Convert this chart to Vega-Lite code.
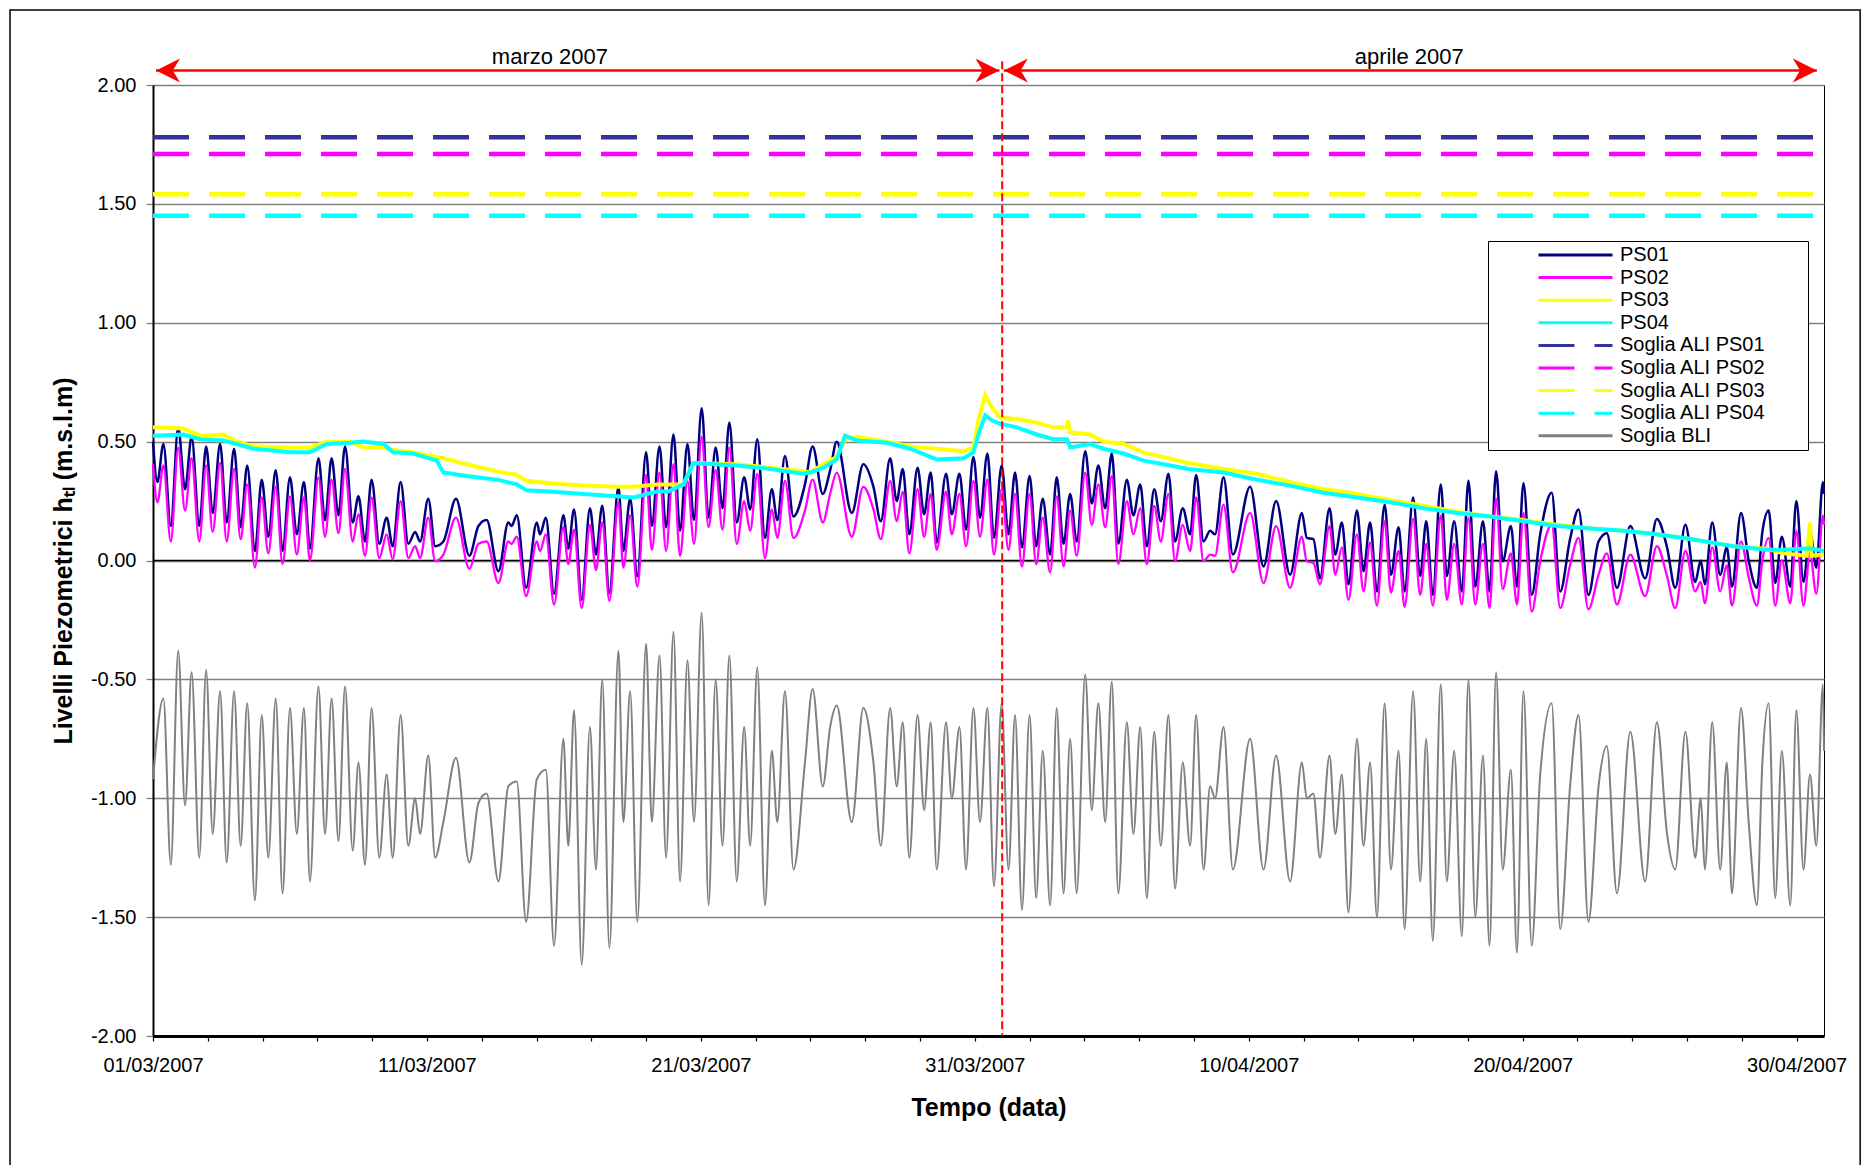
{
  "$schema": "https://vega.github.io/schema/vega-lite/v6.json",
  "width": 1671,
  "height": 951,
  "autosize": "none",
  "padding": {"left": 153, "top": 85, "right": 48, "bottom": 129},
  "background": "#FFFFFF",
  "config": {
    "font": "Liberation Sans",
    "view": {"stroke": "#000000", "strokeWidth": 1}
  },
  "data": {"values": [{}]},
  "datasets": {
    "ali": [
      {"serie": "Soglia ALI PS01", "valore": 1.78},
      {"serie": "Soglia ALI PS02", "valore": 1.71},
      {"serie": "Soglia ALI PS03", "valore": 1.54},
      {"serie": "Soglia ALI PS04", "valore": 1.45}
    ],
    "ps12": [
      {"d":0,"PS01":0.50,"PS02":0.405},{"d":0.16,"PS01":0.33,"PS02":0.245},{"d":0.38,"PS01":0.49,"PS02":0.40},{"d":0.65,"PS01":0.145,"PS02":0.08},
      {"d":0.92,"PS01":0.56,"PS02":0.475},{"d":1.17,"PS01":0.30,"PS02":0.21},{"d":1.41,"PS01":0.52,"PS02":0.43},{"d":1.69,"PS01":0.145,"PS02":0.08},
      {"d":1.94,"PS01":0.48,"PS02":0.40},{"d":2.18,"PS01":0.20,"PS02":0.12},{"d":2.45,"PS01":0.49,"PS02":0.41},{"d":2.69,"PS01":0.16,"PS02":0.08},
      {"d":2.96,"PS01":0.47,"PS02":0.385},{"d":3.20,"PS01":0.14,"PS02":0.09},{"d":3.44,"PS01":0.40,"PS02":0.32},{"d":3.72,"PS01":0.04,"PS02":-0.03},
      {"d":3.97,"PS01":0.34,"PS02":0.265},{"d":4.21,"PS01":0.10,"PS02":0.03},{"d":4.48,"PS01":0.38,"PS02":0.31},{"d":4.73,"PS01":0.04,"PS02":-0.015},
      {"d":5.00,"PS01":0.35,"PS02":0.27},{"d":5.25,"PS01":0.11,"PS02":0.025},{"d":5.51,"PS01":0.33,"PS02":0.265},{"d":5.73,"PS01":0.05,"PS02":0.0},
      {"d":6.04,"PS01":0.43,"PS02":0.35},{"d":6.28,"PS01":0.17,"PS02":0.10},{"d":6.52,"PS01":0.43,"PS02":0.34},{"d":6.77,"PS01":0.19,"PS02":0.115},
      {"d":7.01,"PS01":0.48,"PS02":0.385},{"d":7.29,"PS01":0.16,"PS02":0.08},{"d":7.50,"PS01":0.27,"PS02":0.195},{"d":7.74,"PS01":0.08,"PS02":0.02},
      {"d":7.98,"PS01":0.34,"PS02":0.265},{"d":8.26,"PS01":0.07,"PS02":0.01},{"d":8.53,"PS01":0.18,"PS02":0.11},{"d":8.75,"PS01":0.06,"PS02":0.005},
      {"d":9.04,"PS01":0.33,"PS02":0.25},{"d":9.32,"PS01":0.07,"PS02":0.01},{"d":9.57,"PS01":0.12,"PS02":0.06},{"d":9.75,"PS01":0.08,"PS02":0.01},
      {"d":10.05,"PS01":0.26,"PS02":0.18},{"d":10.30,"PS01":0.06,"PS02":-0.003},{"d":10.60,"PS01":0.08,"PS02":0.025},{"d":11.06,"PS01":0.26,"PS02":0.18},
      {"d":11.55,"PS01":0.02,"PS02":-0.035},{"d":11.88,"PS01":0.145,"PS02":0.07},{"d":12.18,"PS01":0.17,"PS02":0.08},{"d":12.61,"PS01":-0.045,"PS02":-0.095},
      {"d":12.97,"PS01":0.16,"PS02":0.08},{"d":13.09,"PS01":0.145,"PS02":0.07},{"d":13.28,"PS01":0.19,"PS02":0.10},{"d":13.62,"PS01":-0.115,"PS02":-0.15},
      {"d":14.01,"PS01":0.16,"PS02":0.08},{"d":14.13,"PS01":0.11,"PS02":0.04},{"d":14.34,"PS01":0.18,"PS02":0.11},{"d":14.64,"PS01":-0.14,"PS02":-0.185},
      {"d":14.98,"PS01":0.19,"PS02":0.14},{"d":15.16,"PS01":0.05,"PS02":-0.015},{"d":15.37,"PS01":0.215,"PS02":0.13},{"d":15.65,"PS01":-0.165,"PS02":-0.20},
      {"d":15.95,"PS01":0.22,"PS02":0.15},{"d":16.17,"PS01":0.025,"PS02":-0.04},{"d":16.40,"PS01":0.23,"PS02":0.16},{"d":16.66,"PS01":-0.137,"PS02":-0.17},
      {"d":16.99,"PS01":0.31,"PS02":0.245},{"d":17.17,"PS01":0.04,"PS02":-0.03},{"d":17.42,"PS01":0.26,"PS02":0.19},{"d":17.68,"PS01":-0.066,"PS02":-0.11},
      {"d":18.00,"PS01":0.455,"PS02":0.36},{"d":18.21,"PS01":0.145,"PS02":0.045},{"d":18.49,"PS01":0.48,"PS02":0.37},{"d":18.73,"PS01":0.14,"PS02":0.04},
      {"d":19.00,"PS01":0.53,"PS02":0.405},{"d":19.24,"PS01":0.125,"PS02":0.02},{"d":19.51,"PS01":0.49,"PS02":0.335},{"d":19.75,"PS01":0.17,"PS02":0.07},
      {"d":20.03,"PS01":0.64,"PS02":0.52},{"d":20.28,"PS01":0.18,"PS02":0.14},{"d":20.54,"PS01":0.475,"PS02":0.38},{"d":20.79,"PS01":0.22,"PS02":0.13},
      {"d":21.04,"PS01":0.58,"PS02":0.475},{"d":21.31,"PS01":0.16,"PS02":0.07},{"d":21.58,"PS01":0.35,"PS02":0.25},{"d":21.80,"PS01":0.215,"PS02":0.125},
      {"d":22.06,"PS01":0.51,"PS02":0.365},{"d":22.34,"PS01":0.095,"PS02":0.01},{"d":22.59,"PS01":0.30,"PS02":0.215},{"d":22.79,"PS01":0.17,"PS02":0.095},
      {"d":23.07,"PS01":0.44,"PS02":0.335},{"d":23.38,"PS01":0.185,"PS02":0.095},{"d":23.80,"PS01":0.32,"PS02":0.21},{"d":24.08,"PS01":0.48,"PS02":0.34},
      {"d":24.45,"PS01":0.28,"PS02":0.16},{"d":24.72,"PS01":0.38,"PS02":0.28},{"d":24.96,"PS01":0.50,"PS02":0.37},{"d":25.51,"PS01":0.20,"PS02":0.10},
      {"d":25.93,"PS01":0.405,"PS02":0.31},{"d":26.30,"PS01":0.31,"PS02":0.215},{"d":26.57,"PS01":0.165,"PS02":0.09},{"d":26.91,"PS01":0.43,"PS02":0.335},
      {"d":27.15,"PS01":0.25,"PS02":0.165},{"d":27.37,"PS01":0.385,"PS02":0.29},{"d":27.61,"PS01":0.11,"PS02":0.03},{"d":27.91,"PS01":0.39,"PS02":0.30},
      {"d":28.15,"PS01":0.195,"PS02":0.10},{"d":28.39,"PS01":0.37,"PS02":0.28},{"d":28.61,"PS01":0.075,"PS02":0.045},{"d":28.95,"PS01":0.365,"PS02":0.29},
      {"d":29.16,"PS01":0.195,"PS02":0.11},{"d":29.44,"PS01":0.365,"PS02":0.28},{"d":29.68,"PS01":0.13,"PS02":0.06},{"d":29.95,"PS01":0.435,"PS02":0.335},
      {"d":30.19,"PS01":0.18,"PS02":0.10},{"d":30.46,"PS01":0.45,"PS02":0.34},{"d":30.70,"PS01":0.095,"PS02":0.025},{"d":30.98,"PS01":0.40,"PS02":0.30},
      {"d":31.23,"PS01":0.11,"PS02":0.045},{"d":31.47,"PS01":0.37,"PS02":0.28},{"d":31.72,"PS01":0.055,"PS02":-0.025},{"d":32.00,"PS01":0.355,"PS02":0.28},
      {"d":32.24,"PS01":0.06,"PS02":-0.015},{"d":32.48,"PS01":0.26,"PS02":0.18},{"d":32.75,"PS01":0.025,"PS02":-0.05},{"d":32.99,"PS01":0.35,"PS02":0.27},
      {"d":33.24,"PS01":0.07,"PS02":-0.025},{"d":33.48,"PS01":0.28,"PS02":0.21},{"d":33.72,"PS01":0.08,"PS02":0.02},{"d":34.03,"PS01":0.46,"PS02":0.37},
      {"d":34.27,"PS01":0.24,"PS02":0.15},{"d":34.51,"PS01":0.40,"PS02":0.32},{"d":34.76,"PS01":0.22,"PS02":0.14},{"d":35.00,"PS01":0.45,"PS02":0.355},
      {"d":35.24,"PS01":0.07,"PS02":-0.015},{"d":35.55,"PS01":0.34,"PS02":0.25},{"d":35.79,"PS01":0.19,"PS02":0.11},{"d":36.04,"PS01":0.32,"PS02":0.22},
      {"d":36.28,"PS01":0.06,"PS02":-0.015},{"d":36.55,"PS01":0.30,"PS02":0.23},{"d":36.79,"PS01":0.165,"PS02":0.08},{"d":37.07,"PS01":0.365,"PS02":0.28},
      {"d":37.31,"PS01":0.08,"PS02":-0.003},{"d":37.59,"PS01":0.22,"PS02":0.15},{"d":37.86,"PS01":0.11,"PS02":0.04},{"d":38.08,"PS01":0.36,"PS02":0.265},
      {"d":38.35,"PS01":0.08,"PS02":-0.003},{"d":38.59,"PS01":0.125,"PS02":0.025},{"d":38.77,"PS01":0.11,"PS02":0.02},{"d":39.08,"PS01":0.35,"PS02":0.235},
      {"d":39.42,"PS01":0.025,"PS02":-0.05},{"d":40.05,"PS01":0.31,"PS02":0.20},{"d":40.54,"PS01":-0.025,"PS02":-0.095},{"d":41.00,"PS01":0.25,"PS02":0.145},
      {"d":41.51,"PS01":-0.06,"PS02":-0.115},{"d":41.94,"PS01":0.20,"PS02":0.10},{"d":42.12,"PS01":0.095,"PS02":-0.003},{"d":42.36,"PS01":0.09,"PS02":-0.01},
      {"d":42.60,"PS01":-0.075,"PS02":-0.10},{"d":42.95,"PS01":0.22,"PS02":0.145},{"d":43.16,"PS01":0.025,"PS02":-0.06},{"d":43.40,"PS01":0.16,"PS02":0.055},
      {"d":43.64,"PS01":-0.10,"PS02":-0.165},{"d":43.95,"PS01":0.21,"PS02":0.11},{"d":44.19,"PS01":-0.045,"PS02":-0.13},{"d":44.43,"PS01":0.16,"PS02":0.075},
      {"d":44.68,"PS01":-0.13,"PS02":-0.19},{"d":44.96,"PS01":0.235,"PS02":0.165},{"d":45.19,"PS01":-0.06,"PS02":-0.135},{"d":45.47,"PS01":0.14,"PS02":0.04},
      {"d":45.69,"PS01":-0.13,"PS02":-0.195},{"d":46.00,"PS01":0.265,"PS02":0.175},{"d":46.26,"PS01":-0.065,"PS02":-0.145},{"d":46.48,"PS01":0.165,"PS02":0.07},
      {"d":46.72,"PS01":-0.145,"PS02":-0.19},{"d":47.01,"PS01":0.32,"PS02":0.19},{"d":47.23,"PS01":-0.065,"PS02":-0.165},{"d":47.50,"PS01":0.165,"PS02":0.07},
      {"d":47.78,"PS01":-0.13,"PS02":-0.185},{"d":48.02,"PS01":0.335,"PS02":0.18},{"d":48.27,"PS01":-0.11,"PS02":-0.185},{"d":48.55,"PS01":0.165,"PS02":0.07},
      {"d":48.79,"PS01":-0.13,"PS02":-0.20},{"d":49.03,"PS01":0.375,"PS02":0.26},{"d":49.27,"PS01":-0.003,"PS02":-0.12},{"d":49.57,"PS01":0.145,"PS02":0.03},
      {"d":49.79,"PS01":-0.11,"PS02":-0.185},{"d":50.03,"PS01":0.325,"PS02":0.20},{"d":50.33,"PS01":-0.145,"PS02":-0.215},{"d":50.64,"PS01":0.11,"PS02":-0.003},
      {"d":51.06,"PS01":0.285,"PS02":0.15},{"d":51.37,"PS01":-0.13,"PS02":-0.20},{"d":51.73,"PS01":0.09,"PS02":-0.02},{"d":52.04,"PS01":0.215,"PS02":0.095},
      {"d":52.40,"PS01":-0.145,"PS02":-0.205},{"d":52.77,"PS01":0.08,"PS02":-0.06},{"d":53.07,"PS01":0.115,"PS02":0.03},{"d":53.44,"PS01":-0.115,"PS02":-0.185},
      {"d":53.93,"PS01":0.145,"PS02":0.025},{"d":54.47,"PS01":-0.075,"PS02":-0.15},{"d":54.90,"PS01":0.175,"PS02":0.06},{"d":55.27,"PS01":0.055,"PS02":-0.066},
      {"d":55.57,"PS01":-0.115,"PS02":-0.20},{"d":55.94,"PS01":0.15,"PS02":0.04},{"d":56.30,"PS01":-0.09,"PS02":-0.13},{"d":56.50,"PS01":0.0,"PS02":-0.09},
      {"d":56.65,"PS01":-0.10,"PS02":-0.18},{"d":56.92,"PS01":0.16,"PS02":0.055},{"d":57.21,"PS01":-0.06,"PS02":-0.13},{"d":57.45,"PS01":0.055,"PS02":-0.02},
      {"d":57.64,"PS01":-0.11,"PS02":-0.19},{"d":57.97,"PS01":0.20,"PS02":0.08},{"d":58.25,"PS01":0.0,"PS02":-0.07},{"d":58.55,"PS01":-0.115,"PS02":-0.19},
      {"d":58.75,"PS01":0.12,"PS02":0.0},{"d":58.98,"PS01":0.21,"PS02":0.095},{"d":59.22,"PS01":-0.095,"PS02":-0.19},{"d":59.46,"PS01":0.10,"PS02":0.0},
      {"d":59.77,"PS01":-0.11,"PS02":-0.18},{"d":59.99,"PS01":0.25,"PS02":0.125},{"d":60.25,"PS01":-0.09,"PS02":-0.19},{"d":60.49,"PS01":0.12,"PS02":0.03},
      {"d":60.72,"PS01":-0.03,"PS02":-0.14},{"d":60.96,"PS01":0.33,"PS02":0.19},{"d":61.0,"PS01":0.28,"PS02":0.15}
    ],
    "ps34": [
      {"d":0,"PS03":0.56,"PS04":0.525},{"d":1.11,"PS03":0.555,"PS04":0.53},{"d":1.72,"PS03":0.525,"PS04":0.51},{"d":2.57,"PS03":0.53,"PS04":0.505},
      {"d":3.05,"PS03":0.50,"PS04":0.49},{"d":3.66,"PS03":0.48,"PS04":0.47},{"d":5.0,"PS03":0.475,"PS04":0.455},{"d":5.73,"PS03":0.475,"PS04":0.455},
      {"d":6.34,"PS03":0.50,"PS04":0.49},{"d":7.19,"PS03":0.50,"PS04":0.495},{"d":7.68,"PS03":0.475,"PS04":0.50},{"d":8.41,"PS03":0.475,"PS04":0.49},
      {"d":8.77,"PS03":0.465,"PS04":0.455},{"d":9.5,"PS03":0.455,"PS04":0.45},{"d":10.36,"PS03":0.435,"PS04":0.42},{"d":10.6,"PS03":0.43,"PS04":0.37},
      {"d":11.45,"PS03":0.405,"PS04":0.355},{"d":12.55,"PS03":0.375,"PS04":0.34},{"d":13.28,"PS03":0.36,"PS04":0.32},{"d":13.64,"PS03":0.335,"PS04":0.295},
      {"d":14.49,"PS03":0.325,"PS04":0.29},{"d":15.71,"PS03":0.315,"PS04":0.28},{"d":16.93,"PS03":0.31,"PS04":0.27},{"d":17.54,"PS03":0.31,"PS04":0.265},
      {"d":18.39,"PS03":0.32,"PS04":0.29},{"d":18.81,"PS03":0.32,"PS04":0.29},{"d":19.36,"PS03":0.32,"PS04":0.32},{"d":19.73,"PS03":0.41,"PS04":0.41},
      {"d":21.31,"PS03":0.405,"PS04":0.40},{"d":22.53,"PS03":0.39,"PS04":0.385},{"d":23.74,"PS03":0.375,"PS04":0.365},{"d":23.99,"PS03":0.37,"PS04":0.37},
      {"d":24.47,"PS03":0.405,"PS04":0.39},{"d":24.96,"PS03":0.435,"PS04":0.425},{"d":25.26,"PS03":0.51,"PS04":0.525},{"d":25.69,"PS03":0.52,"PS04":0.505},
      {"d":26.79,"PS03":0.50,"PS04":0.495},{"d":27.64,"PS03":0.48,"PS04":0.47},{"d":28.61,"PS03":0.47,"PS04":0.425},{"d":29.59,"PS03":0.46,"PS04":0.43},
      {"d":29.95,"PS03":0.475,"PS04":0.455},{"d":30.13,"PS03":0.59,"PS04":0.53},{"d":30.38,"PS03":0.695,"PS04":0.61},{"d":30.62,"PS03":0.645,"PS04":0.59},
      {"d":30.93,"PS03":0.60,"PS04":0.575},{"d":31.53,"PS03":0.595,"PS04":0.56},{"d":32.26,"PS03":0.58,"PS04":0.53},{"d":32.87,"PS03":0.56,"PS04":0.51},
      {"d":33.36,"PS03":0.56,"PS04":0.51},{"d":33.40,"PS03":0.59,"PS04":0.50},{"d":33.48,"PS03":0.54,"PS04":0.475},{"d":34.21,"PS03":0.53,"PS04":0.49},
      {"d":34.70,"PS03":0.50,"PS04":0.47},{"d":35.43,"PS03":0.49,"PS04":0.45},{"d":36.16,"PS03":0.455,"PS04":0.42},{"d":36.89,"PS03":0.435,"PS04":0.405},
      {"d":37.80,"PS03":0.41,"PS04":0.385},{"d":39.08,"PS03":0.385,"PS04":0.37},{"d":40.30,"PS03":0.365,"PS04":0.34},{"d":41.51,"PS03":0.33,"PS04":0.315},
      {"d":42.73,"PS03":0.30,"PS04":0.285},{"d":43.95,"PS03":0.28,"PS04":0.265},{"d":45.16,"PS03":0.255,"PS04":0.245},{"d":46.38,"PS03":0.23,"PS04":0.22},
      {"d":47.60,"PS03":0.205,"PS04":0.20},{"d":48.81,"PS03":0.185,"PS04":0.185},{"d":50.03,"PS03":0.17,"PS04":0.165},{"d":51.25,"PS03":0.15,"PS04":0.145},
      {"d":52.47,"PS03":0.135,"PS04":0.135},{"d":53.69,"PS03":0.125,"PS04":0.125},{"d":54.90,"PS03":0.11,"PS04":0.11},{"d":56.12,"PS03":0.09,"PS04":0.09},
      {"d":57.70,"PS03":0.06,"PS04":0.06},{"d":58.91,"PS03":0.05,"PS04":0.045},{"d":59.52,"PS03":0.03,"PS04":0.045},{"d":60.37,"PS03":0.02,"PS04":0.05},
      {"d":60.49,"PS03":0.16,"PS04":0.05},{"d":60.55,"PS03":0.02,"PS04":0.05},{"d":61.0,"PS03":0.025,"PS04":0.04}
    ],
    "bli": [
      {"d":0,"BLI":-0.92},{"d":0.38,"BLI":-0.58},{"d":0.65,"BLI":-1.28},{"d":0.92,"BLI":-0.38},{"d":1.17,"BLI":-1.03},{"d":1.41,"BLI":-0.47},
      {"d":1.69,"BLI":-1.25},{"d":1.94,"BLI":-0.46},{"d":2.18,"BLI":-1.15},{"d":2.45,"BLI":-0.55},{"d":2.69,"BLI":-1.27},{"d":2.96,"BLI":-0.55},
      {"d":3.20,"BLI":-1.2},{"d":3.44,"BLI":-0.6},{"d":3.72,"BLI":-1.43},{"d":3.97,"BLI":-0.65},{"d":4.21,"BLI":-1.25},{"d":4.48,"BLI":-0.58},
      {"d":4.73,"BLI":-1.40},{"d":5.00,"BLI":-0.62},{"d":5.25,"BLI":-1.15},{"d":5.51,"BLI":-0.62},{"d":5.73,"BLI":-1.35},{"d":6.04,"BLI":-0.53},
      {"d":6.28,"BLI":-1.15},{"d":6.52,"BLI":-0.58},{"d":6.77,"BLI":-1.18},{"d":7.01,"BLI":-0.53},{"d":7.29,"BLI":-1.22},{"d":7.50,"BLI":-0.85},
      {"d":7.74,"BLI":-1.28},{"d":7.98,"BLI":-0.62},{"d":8.26,"BLI":-1.25},{"d":8.53,"BLI":-0.9},{"d":8.75,"BLI":-1.25},{"d":9.04,"BLI":-0.65},
      {"d":9.32,"BLI":-1.2},{"d":9.57,"BLI":-1.0},{"d":9.75,"BLI":-1.15},{"d":10.05,"BLI":-0.82},{"d":10.30,"BLI":-1.25},{"d":10.60,"BLI":-1.1},
      {"d":11.06,"BLI":-0.83},{"d":11.55,"BLI":-1.27},{"d":11.88,"BLI":-1.02},{"d":12.18,"BLI":-0.98},{"d":12.61,"BLI":-1.35},{"d":12.97,"BLI":-0.95},
      {"d":13.28,"BLI":-0.93},{"d":13.62,"BLI":-1.52},{"d":14.01,"BLI":-0.92},{"d":14.34,"BLI":-0.88},{"d":14.64,"BLI":-1.62},{"d":14.98,"BLI":-0.75},
      {"d":15.16,"BLI":-1.2},{"d":15.37,"BLI":-0.63},{"d":15.65,"BLI":-1.70},{"d":15.95,"BLI":-0.7},{"d":16.17,"BLI":-1.3},{"d":16.40,"BLI":-0.5},
      {"d":16.66,"BLI":-1.63},{"d":16.99,"BLI":-0.38},{"d":17.17,"BLI":-1.1},{"d":17.42,"BLI":-0.55},{"d":17.68,"BLI":-1.52},{"d":18.00,"BLI":-0.35},
      {"d":18.21,"BLI":-1.1},{"d":18.49,"BLI":-0.40},{"d":18.73,"BLI":-1.25},{"d":19.00,"BLI":-0.30},{"d":19.24,"BLI":-1.35},{"d":19.51,"BLI":-0.42},
      {"d":19.75,"BLI":-1.1},{"d":20.03,"BLI":-0.22},{"d":20.28,"BLI":-1.45},{"d":20.54,"BLI":-0.50},{"d":20.79,"BLI":-1.2},{"d":21.04,"BLI":-0.40},
      {"d":21.31,"BLI":-1.35},{"d":21.58,"BLI":-0.7},{"d":21.80,"BLI":-1.2},{"d":22.06,"BLI":-0.45},{"d":22.34,"BLI":-1.45},{"d":22.59,"BLI":-0.8},
      {"d":22.79,"BLI":-1.1},{"d":23.07,"BLI":-0.55},{"d":23.38,"BLI":-1.3},{"d":23.80,"BLI":-0.85},{"d":24.08,"BLI":-0.54},{"d":24.45,"BLI":-0.95},
      {"d":24.72,"BLI":-0.7},{"d":24.96,"BLI":-0.61},{"d":25.51,"BLI":-1.1},{"d":25.93,"BLI":-0.62},{"d":26.30,"BLI":-0.85},{"d":26.57,"BLI":-1.2},
      {"d":26.91,"BLI":-0.62},{"d":27.15,"BLI":-0.95},{"d":27.37,"BLI":-0.68},{"d":27.61,"BLI":-1.25},{"d":27.91,"BLI":-0.65},{"d":28.15,"BLI":-1.05},
      {"d":28.39,"BLI":-0.68},{"d":28.61,"BLI":-1.3},{"d":28.95,"BLI":-0.68},{"d":29.16,"BLI":-1.0},{"d":29.44,"BLI":-0.7},{"d":29.68,"BLI":-1.3},
      {"d":29.95,"BLI":-0.62},{"d":30.19,"BLI":-1.1},{"d":30.46,"BLI":-0.62},{"d":30.70,"BLI":-1.37},{"d":30.98,"BLI":-0.6},{"d":31.23,"BLI":-1.3},
      {"d":31.47,"BLI":-0.65},{"d":31.72,"BLI":-1.47},{"d":32.00,"BLI":-0.65},{"d":32.24,"BLI":-1.42},{"d":32.48,"BLI":-0.8},{"d":32.75,"BLI":-1.45},
      {"d":32.99,"BLI":-0.62},{"d":33.24,"BLI":-1.4},{"d":33.48,"BLI":-0.75},{"d":33.72,"BLI":-1.4},{"d":34.03,"BLI":-0.48},{"d":34.27,"BLI":-1.05},
      {"d":34.51,"BLI":-0.6},{"d":34.76,"BLI":-1.1},{"d":35.00,"BLI":-0.51},{"d":35.24,"BLI":-1.4},{"d":35.55,"BLI":-0.68},{"d":35.79,"BLI":-1.15},
      {"d":36.04,"BLI":-0.7},{"d":36.28,"BLI":-1.42},{"d":36.55,"BLI":-0.72},{"d":36.79,"BLI":-1.2},{"d":37.07,"BLI":-0.65},{"d":37.31,"BLI":-1.38},
      {"d":37.59,"BLI":-0.85},{"d":37.86,"BLI":-1.2},{"d":38.08,"BLI":-0.65},{"d":38.35,"BLI":-1.3},{"d":38.59,"BLI":-0.95},{"d":38.77,"BLI":-1.0},
      {"d":39.08,"BLI":-0.7},{"d":39.42,"BLI":-1.3},{"d":40.05,"BLI":-0.75},{"d":40.54,"BLI":-1.3},{"d":41.00,"BLI":-0.82},{"d":41.51,"BLI":-1.35},
      {"d":41.94,"BLI":-0.85},{"d":42.12,"BLI":-1.0},{"d":42.36,"BLI":-0.98},{"d":42.60,"BLI":-1.25},{"d":42.95,"BLI":-0.82},{"d":43.16,"BLI":-1.15},
      {"d":43.40,"BLI":-0.9},{"d":43.64,"BLI":-1.48},{"d":43.95,"BLI":-0.75},{"d":44.19,"BLI":-1.2},{"d":44.43,"BLI":-0.85},{"d":44.68,"BLI":-1.5},
      {"d":44.96,"BLI":-0.6},{"d":45.19,"BLI":-1.3},{"d":45.47,"BLI":-0.8},{"d":45.69,"BLI":-1.55},{"d":46.00,"BLI":-0.55},{"d":46.26,"BLI":-1.35},
      {"d":46.48,"BLI":-0.75},{"d":46.72,"BLI":-1.6},{"d":47.01,"BLI":-0.52},{"d":47.23,"BLI":-1.35},{"d":47.50,"BLI":-0.8},{"d":47.78,"BLI":-1.58},
      {"d":48.02,"BLI":-0.5},{"d":48.27,"BLI":-1.5},{"d":48.55,"BLI":-0.82},{"d":48.79,"BLI":-1.62},{"d":49.03,"BLI":-0.47},{"d":49.27,"BLI":-1.3},
      {"d":49.57,"BLI":-0.88},{"d":49.79,"BLI":-1.65},{"d":50.03,"BLI":-0.55},{"d":50.33,"BLI":-1.62},{"d":50.64,"BLI":-0.9},{"d":51.06,"BLI":-0.6},
      {"d":51.37,"BLI":-1.55},{"d":51.73,"BLI":-0.95},{"d":52.04,"BLI":-0.65},{"d":52.40,"BLI":-1.52},{"d":52.77,"BLI":-0.95},{"d":53.07,"BLI":-0.78},
      {"d":53.44,"BLI":-1.4},{"d":53.93,"BLI":-0.72},{"d":54.47,"BLI":-1.35},{"d":54.90,"BLI":-0.68},{"d":55.27,"BLI":-1.15},{"d":55.57,"BLI":-1.3},
      {"d":55.94,"BLI":-0.72},{"d":56.30,"BLI":-1.25},{"d":56.50,"BLI":-1.0},{"d":56.65,"BLI":-1.3},{"d":56.92,"BLI":-0.68},{"d":57.21,"BLI":-1.3},
      {"d":57.45,"BLI":-0.85},{"d":57.64,"BLI":-1.4},{"d":57.97,"BLI":-0.62},{"d":58.25,"BLI":-1.1},{"d":58.55,"BLI":-1.45},{"d":58.75,"BLI":-0.85},
      {"d":58.98,"BLI":-0.6},{"d":59.22,"BLI":-1.42},{"d":59.46,"BLI":-0.8},{"d":59.77,"BLI":-1.45},{"d":59.99,"BLI":-0.63},{"d":60.25,"BLI":-1.3},
      {"d":60.49,"BLI":-0.9},{"d":60.72,"BLI":-1.2},{"d":60.96,"BLI":-0.52},{"d":61.0,"BLI":-0.8}
    ]
  },
  "layer": [
    {
      "mark": {"type": "rect", "filled": false, "color": "#000000", "strokeWidth": 1.5},
      "encoding": {
        "x": {"datum": -5.22}, "x2": {"datum": 62.32},
        "y": {"datum": 2.315}, "y2": {"datum": -2.6}
      }
    },
    {
      "mark": {"type": "rule", "color": "#000000", "strokeWidth": 1.3},
      "encoding": {"y": {"datum": 0}}
    },
    {
      "data": {"name": "ali"},
      "mark": {"type": "rule", "strokeWidth": 4.5},
      "encoding": {
        "x": {
          "datum": 0, "type": "quantitative",
          "scale": {"domain": [0, 61], "nice": false, "zero": false},
          "axis": {
            "title": "Tempo (data)",
            "values": [0,1,2,3,4,5,6,7,8,9,10,11,12,13,14,15,16,17,18,19,20,21,22,23,24,25,26,27,28,29,30,31,32,33,34,35,36,37,38,39,40,41,42,43,44,45,46,47,48,49,50,51,52,53,54,55,56,57,58,59,60,61],
            "labelExpr": "datum.value % 10 === 0 ? timeFormat(datetime(2007, 2, 1 + datum.value), '%d/%m/%Y') : ''",
            "labelOverlap": false, "labelFlush": false,
            "grid": false,
            "tickSize": 5, "tickColor": "#000000", "tickWidth": 1.2,
            "domainColor": "#000000", "domainWidth": 3,
            "labelFont": "Liberation Sans", "labelFontSize": 20, "labelColor": "#000000", "labelPadding": 14,
            "titleFont": "Liberation Sans", "titleFontSize": 25, "titleFontWeight": "bold", "titleColor": "#000000", "titlePadding": 20
          }
        },
        "x2": {"datum": 61},
        "y": {
          "field": "valore", "type": "quantitative",
          "scale": {"domain": [-2, 2], "nice": false, "zero": false},
          "axis": {
            "title": "Livelli Piezometrici hₜₗ (m.s.l.m)",
            "values": [-2, -1.5, -1, -0.5, 0, 0.5, 1, 1.5, 2],
            "labelExpr": "datum.value < 0 ? '-' + format(-datum.value, '.2f') : format(datum.value, '.2f')",
            "grid": true, "gridColor": "#808080", "gridWidth": 1.3,
            "tickColor": "#808080", "tickSize": 7, "tickWidth": 1.3,
            "domainColor": "#000000", "domainWidth": 2,
            "labelFont": "Liberation Sans", "labelFontSize": 20, "labelColor": "#000000", "labelPadding": 10,
            "titleFont": "Liberation Sans", "titleFontSize": 25, "titleFontWeight": "bold", "titleColor": "#000000", "titlePadding": 14
          }
        },
        "color": {
          "field": "serie", "type": "nominal",
          "scale": {
            "domain": ["PS01", "PS02", "PS03", "PS04", "Soglia ALI PS01", "Soglia ALI PS02", "Soglia ALI PS03", "Soglia ALI PS04", "Soglia BLI"],
            "range": ["#000080", "#FF00FF", "#FFFF00", "#00FFFF", "#333399", "#FF00FF", "#FFFF00", "#00FFFF", "#808080"]
          },
          "legend": {
            "title": "\u00a0", "titleOrient": "right", "titlePadding": 38, "titleFontSize": 20,
            "orient": "none", "legendX": 1335, "legendY": 156,
            "symbolType": "stroke", "symbolSize": 5476, "symbolOffset": 45, "symbolStrokeWidth": 3,
            "labelFont": "Liberation Sans", "labelFontSize": 20, "labelColor": "#000000",
            "labelOffset": 6, "labelLimit": 400,
            "clipHeight": 20, "rowPadding": 2.6, "padding": 4,
            "strokeColor": "#000000", "fillColor": "#FFFFFF"
          }
        },
        "strokeDash": {
          "field": "serie", "type": "nominal",
          "scale": {
            "domain": ["PS01", "PS02", "PS03", "PS04", "Soglia ALI PS01", "Soglia ALI PS02", "Soglia ALI PS03", "Soglia ALI PS04", "Soglia BLI"],
            "range": [[1, 0], [1, 0], [1, 0], [1, 0], [36, 20], [36, 20], [36, 20], [36, 20], [1, 0]]
          },
          "legend": {
            "title": "\u00a0", "titleOrient": "right", "titlePadding": 38, "titleFontSize": 20,
            "orient": "none", "legendX": 1335, "legendY": 156,
            "symbolType": "stroke", "symbolSize": 5476, "symbolOffset": 45, "symbolStrokeWidth": 3,
            "labelFont": "Liberation Sans", "labelFontSize": 20, "labelColor": "#000000",
            "labelOffset": 6, "labelLimit": 400,
            "clipHeight": 20, "rowPadding": 2.6, "padding": 4,
            "strokeColor": "#000000", "fillColor": "#FFFFFF"
          }
        }
      }
    },
    {
      "data": {"name": "ps12"},
      "mark": {"type": "line", "strokeWidth": 2.5, "interpolate": "monotone"},
      "encoding": {
        "x": {"field": "d", "type": "quantitative"},
        "y": {"field": "PS01", "type": "quantitative"},
        "color": {"datum": "PS01"}
      }
    },
    {
      "data": {"name": "ps12"},
      "mark": {"type": "line", "strokeWidth": 2.3, "interpolate": "monotone"},
      "encoding": {
        "x": {"field": "d", "type": "quantitative"},
        "y": {"field": "PS02", "type": "quantitative"},
        "color": {"datum": "PS02"}
      }
    },
    {
      "data": {"name": "ps34"},
      "mark": {"type": "line", "strokeWidth": 4},
      "encoding": {
        "x": {"field": "d", "type": "quantitative"},
        "y": {"field": "PS03", "type": "quantitative"},
        "color": {"datum": "PS03"}
      }
    },
    {
      "data": {"name": "ps34"},
      "mark": {"type": "line", "strokeWidth": 4},
      "encoding": {
        "x": {"field": "d", "type": "quantitative"},
        "y": {"field": "PS04", "type": "quantitative"},
        "color": {"datum": "PS04"}
      }
    },
    {
      "data": {"name": "bli"},
      "mark": {"type": "line", "strokeWidth": 2, "interpolate": "monotone"},
      "encoding": {
        "x": {"field": "d", "type": "quantitative"},
        "y": {"field": "BLI", "type": "quantitative"},
        "color": {"datum": "Soglia BLI"}
      }
    },
    {
      "mark": {"type": "rule", "color": "#FF0000", "strokeWidth": 2, "strokeDash": [8, 4]},
      "encoding": {"x": {"datum": 31}, "y": {"datum": 2.1}, "y2": {"datum": -2}}
    },
    {
      "mark": {"type": "rule", "color": "#FF0000", "strokeWidth": 2.7},
      "encoding": {"x": {"datum": 0.11}, "x2": {"datum": 30.9}, "y": {"datum": 2.061}}
    },
    {
      "mark": {"type": "rule", "color": "#FF0000", "strokeWidth": 2.7},
      "encoding": {"x": {"datum": 31.06}, "x2": {"datum": 60.74}, "y": {"datum": 2.061}}
    },
    {
      "mark": {"type": "point", "shape": "M0,0L2,-1L1.4,0L2,1Z", "filled": true, "color": "#FF0000", "opacity": 1, "size": 576},
      "encoding": {"x": {"datum": 0.11}, "y": {"datum": 2.061}}
    },
    {
      "mark": {"type": "point", "shape": "M0,0L-2,-1L-1.4,0L-2,1Z", "filled": true, "color": "#FF0000", "opacity": 1, "size": 576},
      "encoding": {"x": {"datum": 30.9}, "y": {"datum": 2.061}}
    },
    {
      "mark": {"type": "point", "shape": "M0,0L2,-1L1.4,0L2,1Z", "filled": true, "color": "#FF0000", "opacity": 1, "size": 576},
      "encoding": {"x": {"datum": 31.06}, "y": {"datum": 2.061}}
    },
    {
      "mark": {"type": "point", "shape": "M0,0L-2,-1L-1.4,0L-2,1Z", "filled": true, "color": "#FF0000", "opacity": 1, "size": 576},
      "encoding": {"x": {"datum": 60.74}, "y": {"datum": 2.061}}
    },
    {
      "mark": {"type": "text", "text": "marzo 2007", "font": "Liberation Sans", "fontSize": 22, "color": "#000000", "baseline": "middle", "align": "center"},
      "encoding": {"x": {"datum": 14.49}, "y": {"datum": 2.116}}
    },
    {
      "mark": {"type": "text", "text": "aprile 2007", "font": "Liberation Sans", "fontSize": 22, "color": "#000000", "baseline": "middle", "align": "center"},
      "encoding": {"x": {"datum": 45.86}, "y": {"datum": 2.116}}
    }
  ]
}
